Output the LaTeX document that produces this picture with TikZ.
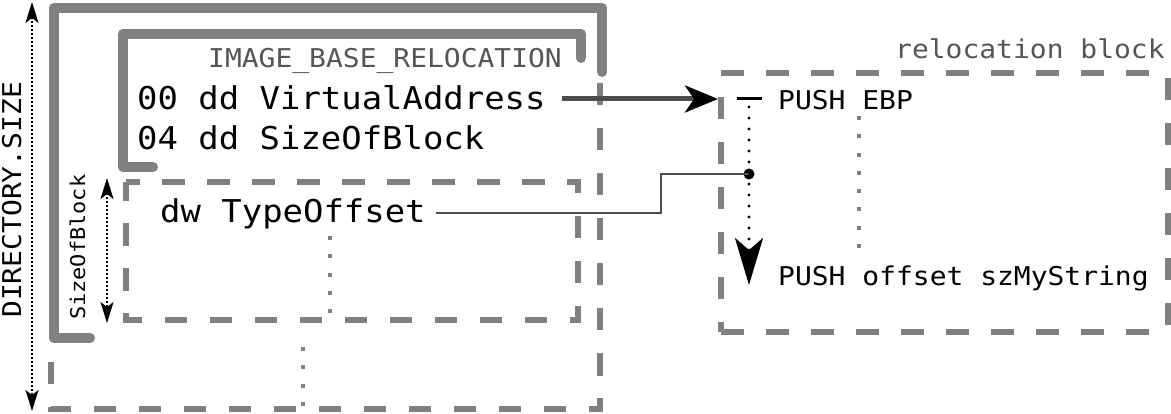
\documentclass[tikz,border=0pt]{standalone}
\usepackage{fontspec}
\setmonofont[FakeStretch=1.08]{DejaVu Sans Mono}
\usetikzlibrary{arrows.meta}
\definecolor{brk}{HTML}{808080}
\definecolor{lbl}{HTML}{555555}
\definecolor{cn}{HTML}{4D4D4D}
\begin{document}
\begin{tikzpicture}[x=1pt,y=-1pt,
  bracket/.style={line width=10pt, draw=brk, line cap=round, line join=round},
  dashbox/.style={line width=5.5pt, draw=brk, dash pattern=on 22.5pt off 22.5pt},
  grdots/.style={line width=4pt, draw=brk, dash pattern=on 4pt off 14.3pt},
  code/.style={font=\ttfamily\fontsize{31.4}{38}\selectfont, anchor=base west, inner sep=0pt},
  small/.style={font=\ttfamily\fontsize{25.9}{31}\selectfont, anchor=base west, inner sep=0pt},
  lbltext/.style={small, text=lbl},
  sob/.style={font=\ttfamily\fontsize{20.3}{24}\selectfont, anchor=base west, inner sep=0pt},
  dimline/.style={line width=1.5pt, dash pattern=on 1.5pt off 2.5pt,
    {Stealth[length=21pt,width=13pt,inset=5pt]}-{Stealth[length=21pt,width=13pt,inset=5pt]}},
  link/.style={draw=cn, line width=2.5pt}]
\useasboundingbox (0,0) rectangle (1171,414);

% thick brackets
\draw[bracket] (90,338) -- (54,338) -- (54,8) -- (602,8) -- (602,72);
\draw[bracket] (153,167) -- (123,167) -- (123,34) -- (581,34) -- (581,58);

% dashed outlines
\draw[dashbox] (600,83) -- (600,409) -- (51,409) -- (51,345);
\draw[dashbox, dash phase=9pt] (126,182) -- (578,182) -- (578,320) -- (126,320) -- cycle;
\draw[dashbox] (721,73) -- (1168,73);
\draw[dashbox, dash phase=40pt] (1168,73) -- (1168,332);
\draw[dashbox] (721,332) -- (1168,332);
\draw[dashbox, dash phase=12.5pt] (721,332) -- (721,95);

% gray dotted continuations
\draw[grdots] (859,116) -- (859,252);
\draw[grdots] (330,236) -- (330,318);
\draw[grdots] (303,347) -- (303,409);

% texts
\node[lbltext] (ibr) at (208,68) {IMAGE\_BASE\_RELOCATION};
\node[code] (va) at (137,110) {00 dd VirtualAddress};
\node[code] (sb) at (137,150) {04 dd SizeOfBlock};
\node[code] (to) at (160,223) {dw TypeOffset};
\node[lbltext] (rb) at (895,59) {relocation block};
\node[small] (pe) at (778,110) {PUSH EBP};
\node[small] (po) at (778,286) {PUSH offset szMyString};
\node[small, rotate=90] (ds) at (21,318) {DIRECTORY.SIZE};
\node[sob, rotate=90] (sz) at (85,320) {SizeOfBlock};

% dimension arrows
\coordinate (dsT) at (32,2);
\coordinate (dsB) at (32,411);
\draw[dimline] (dsT) -- (dsB);
\coordinate (szT) at (107,178);
\coordinate (szB) at (107,323);
\draw[dimline] (szT) -- (szB);

% VirtualAddress -> relocation block
\coordinate (vaout) at ([xshift=16pt,yshift=11pt]va.base east);
\coordinate (blkin) at (718,99);
\draw[draw=cn, line width=5pt, -{Stealth[length=33pt,width=27pt,inset=9pt,black]}] (vaout) -- (blkin);

% start mark and flow
\coordinate (markL) at (737,99);
\coordinate (markR) at (762,99);
\draw[line width=3pt] (markL) -- (markR);
\coordinate (flowtop) at (749,107);
\coordinate (flowend) at (749,285);
\draw[line width=3.2pt, line cap=round, dash pattern=on 0pt off 11pt,
  -{Stealth[length=47pt,width=28pt,inset=12pt]}] (flowtop) -- (flowend);
\node[circle, fill=black, inner sep=0pt, minimum size=11pt] (jn) at (749,174) {};

% TypeOffset -> point in block
\coordinate (toout) at ([xshift=10pt,yshift=10pt]to.base east);
\coordinate (bendx) at (661,0);
\draw[link] (toout) -- (toout -| bendx) |- (jn.center);
\end{tikzpicture}
\end{document}
